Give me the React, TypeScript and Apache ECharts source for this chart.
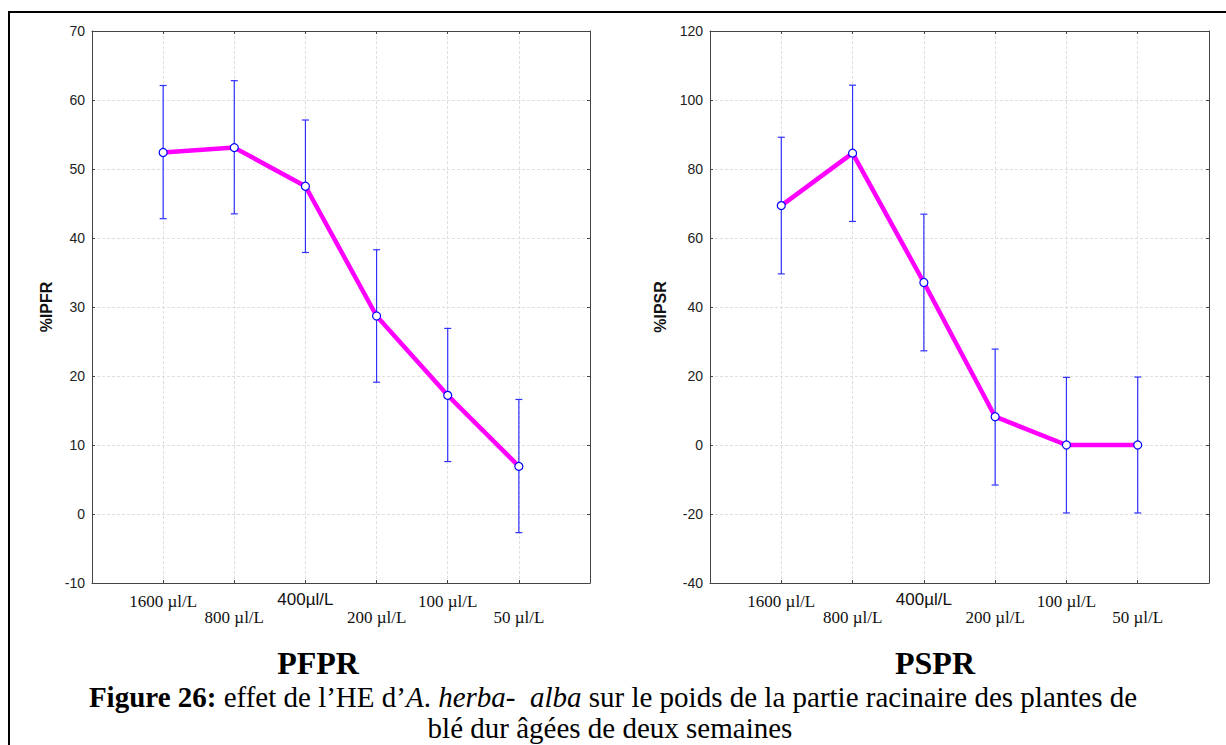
import React, { useEffect, useRef } from "react";
import * as echarts from "echarts";

const doses = ["1600 µl/L", "800 µl/L", "400µl/L", "200 µl/L", "100 µl/L", "50 µl/L"];
const positions = [1, 2, 3, 4, 5, 6];

const pfprMean = [52.4, 53.1, 47.5, 28.7, 17.2, 6.9];
const pfprLow = [42.8, 43.5, 37.9, 19.1, 7.6, -2.7];
const pfprHigh = [62.1, 62.8, 57.1, 38.3, 26.9, 16.6];

const psprMean = [69.4, 84.6, 47.1, 8.2, 0, 0];
const psprLow = [49.6, 64.8, 27.3, -11.6, -19.7, -19.7];
const psprHigh = [89.2, 104.3, 66.9, 27.8, 19.6, 19.7];

const pfprTicks = { min: -10, max: 70, interval: 10 };
const psprTicks = { min: -40, max: 120, interval: 20 };

const panelTitles = ["PFPR", "PSPR"];
const axisNames = ["%IPFR", "%IPSR"];

const SANS = "Liberation Sans, Arial, sans-serif";
const SERIF = "Liberation Serif, Times New Roman, serif";

function xLabel(v: number) {
  const i = Math.round(v) - 1;
  if (i < 0 || i > 5) return "";
  const low = i % 2 === 1;
  const sans = i === 2;
  const key = (sans ? "sans" : "serif") + (low ? "Lo" : "Hi");
  return `{${key}|${doses[i]}}`;
}

const xRich = {
  serifHi: { fontFamily: SERIF, fontSize: 17, color: "#111" },
  serifLo: { fontFamily: SERIF, fontSize: 17, color: "#111", padding: [16, 0, 0, 0] },
  sansHi: { fontFamily: SANS, fontSize: 17, color: "#111", padding: [-2, 0, 0, 0] },
  sansLo: { fontFamily: SANS, fontSize: 17, color: "#111", padding: [16, 0, 0, 0] },
};

function errorRender(params: any, api: any) {
  const x = api.value(0);
  const lo = api.value(1);
  const hi = api.value(2);
  const pTop = api.coord([x, hi]);
  const pBot = api.coord([x, lo]);
  const w = 3.5;
  const style = { stroke: "#3030ff", lineWidth: 1.2 };
  return {
    type: "group",
    children: [
      { type: "line", shape: { x1: pTop[0], y1: pTop[1], x2: pBot[0], y2: pBot[1] }, style },
      { type: "line", shape: { x1: pTop[0] - w, y1: pTop[1], x2: pTop[0] + w, y2: pTop[1] }, style },
      { type: "line", shape: { x1: pBot[0] - w, y1: pBot[1], x2: pBot[0] + w, y2: pBot[1] }, style },
    ],
  };
}

export default function App() {
  const ref = useRef<HTMLDivElement>(null);

  useEffect(() => {
    document.body.style.margin = "0";
    const chart = echarts.init(ref.current!, null, { renderer: "svg" });

    const gridLine = { show: true, lineStyle: { color: "#dedede", type: [3, 2] as any, width: 1 } };
    const axisLine = { show: true, onZero: false, lineStyle: { color: "#444", width: 1 } };

    const mkX = (gridIndex: number, top: boolean) => ({
      type: "value",
      gridIndex,
      position: top ? "top" : "bottom",
      min: 0,
      max: 7,
      interval: 1,
      axisLine,
      axisTick: { show: true, inside: true, length: 3, lineStyle: { color: "#444" } },
      splitLine: top ? { show: false } : gridLine,
      axisLabel: top
        ? { show: false }
        : { show: true, margin: 10, formatter: xLabel, rich: xRich, showMinLabel: false, showMaxLabel: false },
    });

    const mkY = (gridIndex: number, right: boolean, t: any, name: string, gap: number) => ({
      type: "value",
      gridIndex,
      position: right ? "right" : "left",
      min: t.min,
      max: t.max,
      interval: t.interval,
      axisLine,
      axisTick: { show: true, inside: true, length: 3, lineStyle: { color: "#444" } },
      splitLine: right ? { show: false } : gridLine,
      axisLabel: right
        ? { show: false }
        : { show: true, margin: 7, fontFamily: SANS, fontSize: 14, color: "#222" },
      name: right ? "" : name,
      nameLocation: "middle",
      nameGap: gap,
      nameTextStyle: { fontFamily: SANS, fontSize: 16, fontWeight: "bold", color: "#111" },
    });

    const lineSeries = (axisIdx: number, data: number[]) => ({
      type: "line",
      xAxisIndex: axisIdx,
      yAxisIndex: axisIdx,
      data: positions.map((p, i) => [p, data[i]]),
      lineStyle: { color: "#ff00ff", width: 4.5 },
      symbol: "circle",
      symbolSize: 8,
      itemStyle: { color: "#ffffff", borderColor: "#0000ff", borderWidth: 1.2 },
      z: 5,
    });

    const errSeries = (axisIdx: number, lo: number[], hi: number[]) => ({
      type: "custom",
      xAxisIndex: axisIdx,
      yAxisIndex: axisIdx,
      renderItem: errorRender,
      encode: { x: 0, y: [1, 2] },
      data: positions.map((p, i) => [p, lo[i], hi[i]]),
      z: 3,
    });

    chart.setOption({
      animation: false,
      grid: [
        { left: 92, top: 31, width: 498, height: 552 },
        { left: 710, top: 31, width: 499, height: 552 },
      ],
      xAxis: [mkX(0, false), mkX(0, true), mkX(1, false), mkX(1, true)],
      yAxis: [
        mkY(0, false, pfprTicks, axisNames[0], 38),
        mkY(0, true, pfprTicks, "", 0),
        mkY(1, false, psprTicks, axisNames[1], 42),
        mkY(1, true, psprTicks, "", 0),
      ],
      series: [
        errSeries(0, pfprLow, pfprHigh),
        lineSeries(0, pfprMean),
        errSeries(2, psprLow, psprHigh),
        lineSeries(2, psprMean),
      ],
      graphic: [
        {
          type: "rect",
          shape: { x: 9, y: 12, width: 1240, height: 800 },
          style: { fill: "none", stroke: "#000", lineWidth: 2 },
          silent: true,
        },
        {
          type: "text",
          x: 318,
          y: 663,
          style: {
            text: panelTitles[0],
            fontFamily: SERIF,
            fontSize: 32,
            fontWeight: "bold",
            fill: "#000",
            align: "center",
            verticalAlign: "middle",
          },
        },
        {
          type: "text",
          x: 935,
          y: 663,
          style: {
            text: panelTitles[1],
            fontFamily: SERIF,
            fontSize: 32,
            fontWeight: "bold",
            fill: "#000",
            align: "center",
            verticalAlign: "middle",
          },
        },
        {
          type: "text",
          x: 613,
          y: 697,
          style: {
            text:
              "{b|Figure 26:}{n| effet de l’HE d’}{i|A}{n|. }{i|herba-}{n|  }{i|alba}{n| sur le poids de la partie racinaire des plantes de}",
            fontFamily: SERIF,
            fontSize: 29,
            fill: "#000",
            align: "center",
            verticalAlign: "middle",
            rich: {
              b: { fontFamily: SERIF, fontSize: 29, fontWeight: "bold", fill: "#000" },
              n: { fontFamily: SERIF, fontSize: 29, fill: "#000" },
              i: { fontFamily: SERIF, fontSize: 29, fontStyle: "italic", fill: "#000" },
            },
          },
        },
        {
          type: "text",
          x: 610,
          y: 728,
          style: {
            text: "blé dur âgées de deux semaines",
            fontFamily: SERIF,
            fontSize: 29,
            fill: "#000",
            align: "center",
            verticalAlign: "middle",
          },
        },
      ],
    });

    return () => chart.dispose();
  }, []);

  return <div ref={ref} style={{ width: 1226, height: 745 }} />;
}
